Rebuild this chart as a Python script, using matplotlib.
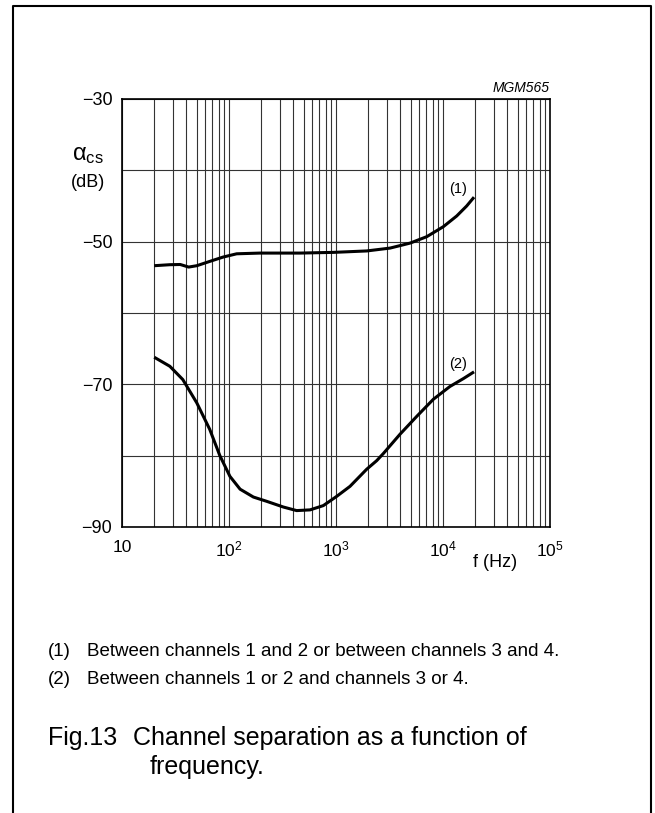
import matplotlib.pyplot as plt
from matplotlib.lines import Line2D
from matplotlib.ticker import LogLocator, NullFormatter

plt.rcParams["font.family"] = ["Liberation Sans", "DejaVu Sans"]
plt.rcParams["mathtext.fontset"] = "custom"
plt.rcParams["mathtext.rm"] = "Liberation Sans"
plt.rcParams["mathtext.it"] = "Liberation Sans"

# curve (1): between channels 1 and 2 / 3 and 4
freq1 = [20, 28, 35, 42, 50, 66, 88, 118, 195, 460, 950, 1940, 3200, 4930,
         7050, 10070, 13430, 16640, 19500]
sep1 = [-53.37, -53.23, -53.2, -53.56, -53.37, -52.77, -52.16, -51.7, -51.6,
        -51.6, -51.5, -51.3, -50.9, -50.2, -49.3, -47.9, -46.4, -45.0, -43.76]

# curve (2): between channels 1 or 2 and channels 3 or 4
freq2 = [20, 28, 37, 50, 66, 82, 102, 127, 169, 225, 322, 429, 572, 761,
         1016, 1352, 1936, 2400, 2770, 3962, 5675, 8117, 11610, 15490, 19500]
sep2 = [-66.2, -67.47, -69.33, -72.6, -76.3, -79.97, -82.9, -84.7, -85.8,
        -86.4, -87.2, -87.7, -87.6, -87.0, -85.7, -84.3, -81.9, -80.7, -79.7,
        -77.0, -74.5, -72.1, -70.3, -69.2, -68.25]

xticks = [10, 100, 1000, 10000, 100000]
xlabels = ["10", r"$10^2$", r"$10^3$", r"$10^4$", r"$10^5$"]
yticks = [-90, -80, -70, -60, -50, -40, -30]
ylabels = ["\u221290", "", "\u221270", "", "\u221250", "", "\u221230"]

W, H = 655, 813
fig = plt.figure(figsize=(W / 100, H / 100), dpi=100)
ax = fig.add_axes([122 / W, 1 - 527 / H, 428 / W, 428 / H])

for f, s in [(freq1, sep1), (freq2, sep2)]:
    ax.plot(f, s, color="black", lw=2.2, solid_capstyle="butt",
            solid_joinstyle="round", zorder=3)

ax.set_xscale("log")
ax.set_xlim(10, 1e5)
ax.set_ylim(-90, -30)
ax.set_xticks(xticks)
ax.set_xticklabels(xlabels, fontsize=12.5)
ax.xaxis.set_minor_locator(LogLocator(base=10, subs=range(2, 10)))
ax.xaxis.set_minor_formatter(NullFormatter())
ax.set_yticks(yticks)
ax.set_yticklabels(ylabels, fontsize=13)
ax.tick_params(which="both", length=0)
ax.tick_params(axis="x", pad=9)
ax.tick_params(axis="y", pad=7)
ax.grid(which="both", axis="x", color="#333333", lw=0.8)
ax.grid(which="major", axis="y", color="#333333", lw=0.8)
for sp in ax.spines.values():
    sp.set_linewidth(1.2)

ax.text(13960, -42.67, "(1)", fontsize=10.5, ha="center", va="center")
ax.text(13960, -67.16, "(2)", fontsize=10.5, ha="center", va="center")

fig.text(550 / W, 1 - 88 / H, "MGM565", fontsize=10, style="italic",
         ha="right", va="center")
fig.text(72 / W, 1 - 160 / H, r"$\mathrm{\alpha_{cs}}$", fontsize=17,
         ha="left", va="baseline")
fig.text(87.5 / W, 1 - 182.5 / H, "(dB)", fontsize=13, ha="center", va="center")
fig.text(495.5 / W, 1 - 562.5 / H, "f (Hz)", fontsize=13, ha="center",
         va="center")

fig.text(48 / W, 1 - 655.7 / H, "(1)", fontsize=13.5, va="baseline")
fig.text(87 / W, 1 - 655.7 / H,
         "Between channels 1 and 2 or between channels 3 and 4.",
         fontsize=13.5, va="baseline")
fig.text(48 / W, 1 - 684.3 / H, "(2)", fontsize=13.5, va="baseline")
fig.text(87 / W, 1 - 684.3 / H,
         "Between channels 1 or 2 and channels 3 or 4.",
         fontsize=13.5, va="baseline")

fig.text(48 / W, 1 - 745 / H, "Fig.13", fontsize=18, va="baseline")
fig.text(133 / W, 1 - 745 / H, "Channel separation as a function of",
         fontsize=18, va="baseline")
fig.text(150 / W, 1 - 774 / H, "frequency.", fontsize=18, va="baseline")

# page frame, open at the bottom
frame_x = [12.7 / W, 12.7 / W, 651 / W, 651 / W]
frame_y = [0, 1 - 6 / H, 1 - 6 / H, 0]
fig.add_artist(Line2D(frame_x, frame_y, color="black", lw=1.5))

fig.savefig("out.png", dpi=100)
